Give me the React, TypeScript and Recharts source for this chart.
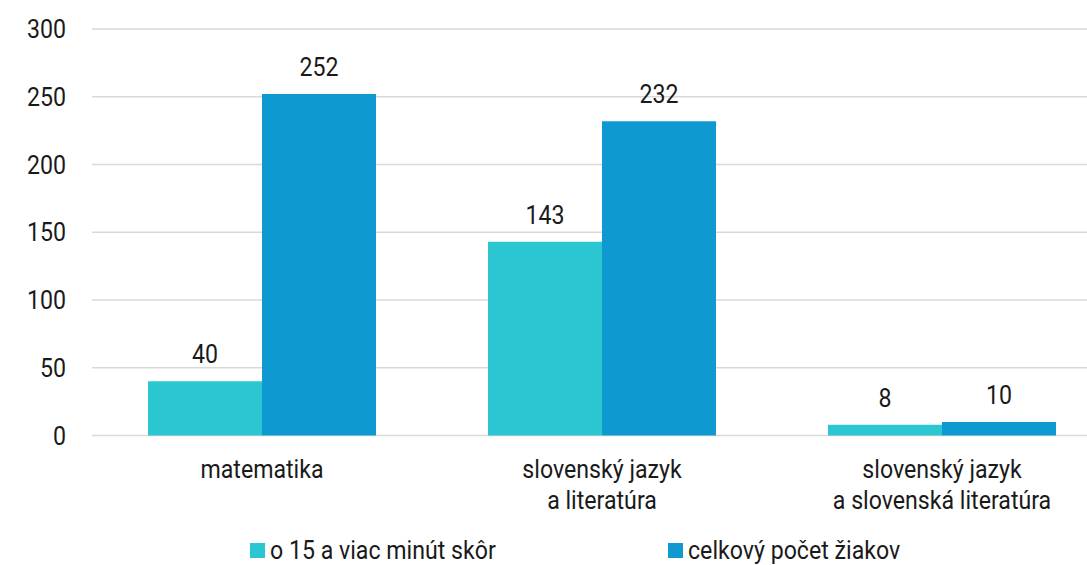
import { Bar, BarChart, CartesianGrid, LabelList, Legend, XAxis, YAxis } from "recharts";

const categories = [
  "matematika",
  "slovenský jazyk\na literatúra",
  "slovenský jazyk\na slovenská literatúra",
];
const earlyCounts = [40, 143, 8];
const totalCounts = [252, 232, 10];
const seriesNames = ["o 15 a viac minút skôr", "celkový počet žiakov"];
const yTicks = [0, 50, 100, 150, 200, 250, 300];

const TEAL = "#2cc6d2";
const BLUE = "#0e99d1";
const FONT = "Roboto, sans-serif";
const INK = "#1a1a1a";
const SQUEEZE = 0.89;

const data = categories.map((name, i) => ({
  name,
  early: earlyCounts[i],
  total: totalCounts[i],
}));

const YTick = ({ x, y, payload }: any) => (
  <g transform={`translate(${x},${y}) scale(${SQUEEZE},1)`}>
    <text x={0} y={9} textAnchor="end" fontFamily={FONT} fontSize={26} fill={INK}>
      {payload.value}
    </text>
  </g>
);

const XTick = ({ x, y, payload }: any) => {
  const lines = String(payload.value).split("\n");
  return (
    <g transform={`translate(${x},${y}) scale(${SQUEEZE},1)`}>
      <text textAnchor="middle" fontFamily={FONT} fontSize={26} fill={INK}>
        {lines.map((line, i) => (
          <tspan key={i} x={0} y={36.5 + i * 31}>
            {line}
          </tspan>
        ))}
      </text>
    </g>
  );
};

const ValueLabel = ({ x, y, width, value }: any) => (
  <g transform={`translate(${x + width / 2},${y - 18}) scale(${SQUEEZE},1)`}>
    <text textAnchor="middle" fontFamily={FONT} fontSize={26} fill={INK}>
      {value}
    </text>
  </g>
);

// legend drawn by hand so the two items sit where the original has them
const LegendBox = () => {
  const items = [
    { label: seriesNames[0], color: TEAL, left: 250 },
    { label: seriesNames[1], color: BLUE, left: 668 },
  ];
  return (
    <div style={{ position: "relative", height: 24 }}>
      {items.map((it) => (
        <div
          key={it.label}
          style={{
            position: "absolute",
            left: it.left,
            top: 0,
            height: 24,
            display: "flex",
            alignItems: "center",
            whiteSpace: "nowrap",
          }}
        >
          <span style={{ width: 15, height: 15, background: it.color, display: "inline-block", marginRight: 5 }} />
          <span
            style={{
              fontFamily: FONT,
              fontSize: 26,
              color: INK,
              display: "inline-block",
              transform: `scale(${SQUEEZE},1)`,
              transformOrigin: "left center",
              lineHeight: "24px",
            }}
          >
            {it.label}
          </span>
        </div>
      ))}
    </div>
  );
};

export default function App() {
  return (
    <div
      style={{
        position: "fixed",
        left: 0,
        top: 0,
        width: 1087,
        height: 565,
        overflow: "hidden",
        background: "#fff",
      }}
    >
      <BarChart
        width={1112}
        height={565}
        data={data}
        margin={{ top: 29, right: 0, left: 0, bottom: 0 }}
        barCategoryGap={56}
        barGap={0}
      >
        <CartesianGrid vertical={false} stroke="#d9d9d9" strokeWidth={1.5} />
        <YAxis
          width={92}
          domain={[0, 300]}
          ticks={yTicks}
          tickLine={false}
          axisLine={false}
          tickMargin={20}
          tick={<YTick />}
          interval={0}
        />
        <XAxis
          dataKey="name"
          height={105.5}
          tickLine={false}
          axisLine={false}
          tickMargin={0}
          tick={<XTick />}
          interval={0}
        />
        <Legend verticalAlign="bottom" content={<LegendBox />} wrapperStyle={{ bottom: 3 }} />
        <Bar dataKey="early" name={seriesNames[0]} fill={TEAL} isAnimationActive={false}>
          <LabelList dataKey="early" content={<ValueLabel />} />
        </Bar>
        <Bar dataKey="total" name={seriesNames[1]} fill={BLUE} isAnimationActive={false}>
          <LabelList dataKey="total" content={<ValueLabel />} />
        </Bar>
      </BarChart>
    </div>
  );
}
